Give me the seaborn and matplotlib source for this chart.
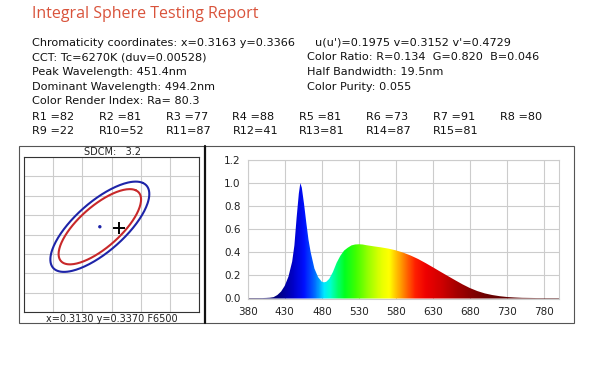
import numpy as np
import seaborn as sns
import matplotlib.pyplot as plt
from matplotlib.colors import LinearSegmentedColormap, Normalize
from matplotlib.patches import Polygon, Rectangle
from matplotlib.lines import Line2D

sns.set_style('white')
plt.rcParams['font.family'] = ['DejaVu Sans']

W, H = 600, 365

# report text
title = 'Integral Sphere Testing Report'
info_left = ['Chromaticity coordinates: x=0.3163 y=0.3366',
             'CCT: Tc=6270K (duv=0.00528)',
             'Peak Wavelength: 451.4nm',
             'Dominant Wavelength: 494.2nm',
             'Color Render Index: Ra= 80.3']
info_right = ["u(u')=0.1975 v=0.3152 v'=0.4729",
              'Color Ratio: R=0.134  G=0.820  B=0.046',
              'Half Bandwidth: 19.5nm',
              'Color Purity: 0.055']
r_index = list(range(1, 16))
r_values = [82, 81, 77, 88, 81, 73, 91, 80, 22, 52, 87, 41, 81, 87, 81]

# chromaticity panel
target_xy = (0.3130, 0.3370)
measured_xy = (0.3163, 0.3366)
sdcm = 3.2
ellipse_a, ellipse_b, ellipse_theta = 0.00225, 0.00084, 57.0
ellipse_steps = [5, 6]
ellipse_colors = ['#c8282a', '#1e24a8']

# spectrum
wavelength = [380, 390, 400, 405, 410, 415, 420, 425, 430, 435, 440, 443, 446, 449,
              451, 453, 456, 459, 462, 465, 470, 475, 480, 483, 486, 490, 495, 500,
              505, 510, 515, 520, 525, 530, 535, 540, 550, 560, 570, 580, 590, 600,
              610, 620, 630, 640, 650, 660, 670, 680, 690, 700, 710, 720, 730, 740,
              750, 760, 770, 780, 790, 800]
intensity = [0.004, 0.004, 0.004, 0.005, 0.007, 0.012, 0.03, 0.06, 0.11, 0.19, 0.32, 0.46,
             0.70, 0.91, 1.00, 0.96, 0.82, 0.66, 0.51, 0.40, 0.26, 0.185, 0.145, 0.14,
             0.145, 0.17, 0.23, 0.31, 0.37, 0.415, 0.44, 0.46, 0.468, 0.47, 0.468,
             0.462, 0.452, 0.443, 0.432, 0.417, 0.397, 0.372, 0.342, 0.307, 0.27,
             0.232, 0.195, 0.158, 0.122, 0.09, 0.064, 0.044, 0.03, 0.02, 0.013, 0.009,
             0.006, 0.005, 0.004, 0.004, 0.004, 0.004]

spectrum_stops = [(380, '#100040'), (420, '#000080'), (440, '#0000c8'), (455, '#0010ff'),
                  (470, '#0070ff'), (482, '#00e8ff'), (490, '#00ffd0'), (500, '#00ff70'),
                  (510, '#00ff20'), (525, '#40ff00'), (545, '#a8ff00'), (560, '#e8ff00'),
                  (570, '#ffff00'), (580, '#ffc000'), (590, '#ff8000'), (605, '#ff2000'),
                  (620, '#ee0000'), (640, '#d00000'), (660, '#a80000'), (680, '#880000'),
                  (700, '#6c0000'), (800, '#400000')]


def fx(x):
    return x / W


def fy(y):
    return 1 - y / H


fig = plt.figure(figsize=(6, 3.65), dpi=100)

# header text
fig.text(fx(32), fy(14), title, color='#d9533b', fontsize=11.5,
         family=['Open Sans', 'DejaVu Sans'], va='center', ha='left')
line_y = [42.7, 57.3, 71.7, 86.7, 101]
for txt, y in zip(info_left, line_y):
    fig.text(fx(32), fy(y), txt, fontsize=8.1, va='center', color='#111')
for i, (txt, y) in enumerate(zip(info_right, line_y)):
    x0 = 315 if i == 0 else 307
    fig.text(fx(x0), fy(y), txt, fontsize=8.1, va='center', color='#111')
for k, (idx, val) in enumerate(zip(r_index, r_values)):
    row, col = divmod(k, 8)
    label = f'R{idx}'.ljust(3) + f'={val}'
    fig.text(fx(32 + 66.8 * col), fy(117.3 + 14 * row), label, fontsize=8.1,
             va='center', color='#111')

# panel frames
fig.add_artist(Rectangle((fx(19), fy(323)), (574 - 19) / W, (323 - 146) / H,
                         transform=fig.transFigure, fill=False, ec='#555', lw=0.8))
fig.add_artist(Line2D([fx(205), fx(205)], [fy(146), fy(323)],
                      transform=fig.transFigure, color='#111', lw=1.6))

# chromaticity panel
axL = fig.add_axes([fx(24), fy(312), 175 / W, 155 / H])
axL.set_xlim(0.300, 0.330)
axL.set_ylim(0.315, 0.355)
axL.set_xticks(np.arange(0.300, 0.3301, 0.005))
axL.set_yticks(np.arange(0.315, 0.3551, 0.005))
axL.set_xticklabels([])
axL.set_yticklabels([])
axL.tick_params(length=0)
axL.grid(True, color='#cccccc', lw=0.8)
for s in axL.spines.values():
    s.set_color('#333')
    s.set_linewidth(0.8)

t = np.linspace(0, 2 * np.pi, 200)
th = np.radians(ellipse_theta)
for step, col in zip(ellipse_steps, ellipse_colors):
    a, b = ellipse_a * step, ellipse_b * step
    ex = target_xy[0] + a * np.cos(t) * np.cos(th) - b * np.sin(t) * np.sin(th)
    ey = target_xy[1] + a * np.cos(t) * np.sin(th) + b * np.sin(t) * np.cos(th)
    sns.lineplot(x=ex, y=ey, sort=False, estimator=None, color=col, lw=1.5, ax=axL)
sns.scatterplot(x=[target_xy[0]], y=[target_xy[1]], color='#1e24a8', s=6,
                edgecolor='none', ax=axL)
axL.plot([measured_xy[0]], [measured_xy[1]], marker='+', ms=8, mew=1.4, color='black')

fig.text(fx(112), fy(152), f'SDCM:   {sdcm}', ha='center', va='center', fontsize=7,
         color='#222')
fig.text(fx(112), fy(318.5), f'x={target_xy[0]:.4f} y={target_xy[1]:.4f} F6500',
         ha='center', va='center', fontsize=7, color='#222')

# spectrum panel
axR = fig.add_axes([fx(247.7), fy(298.5), 311.3 / W, 138.5 / H])
cmap = LinearSegmentedColormap.from_list(
    'spec', [((w - 380) / 420, c) for w, c in spectrum_stops])
verts = [(wavelength[0], 0)] + list(zip(wavelength, intensity)) + [(wavelength[-1], 0)]
poly = Polygon(verts, closed=True, facecolor='none', edgecolor='none')
axR.add_patch(poly)
grad = np.linspace(380, 800, 800)[None, :]
im = axR.imshow(grad, extent=[380, 800, 0, 1.2], aspect='auto', cmap=cmap,
                norm=Normalize(380, 800), origin='lower', zorder=2)
im.set_clip_path(poly)
axR.set_xlim(380, 800)
axR.set_ylim(0, 1.2)
axR.set_xticks(range(380, 781, 50))
axR.set_yticks(np.arange(0, 1.21, 0.2))
axR.set_yticklabels([f'{v:.1f}' for v in np.arange(0, 1.21, 0.2)])
axR.tick_params(length=0, labelsize=7.5, pad=5, colors='#222')
axR.tick_params(axis='x', pad=6)
axR.set_axisbelow(True)
axR.grid(True, color='#cccccc', lw=0.8)
for s in axR.spines.values():
    s.set_color('#cccccc')
    s.set_linewidth(0.8)

fig.savefig('out.png', dpi=100)
